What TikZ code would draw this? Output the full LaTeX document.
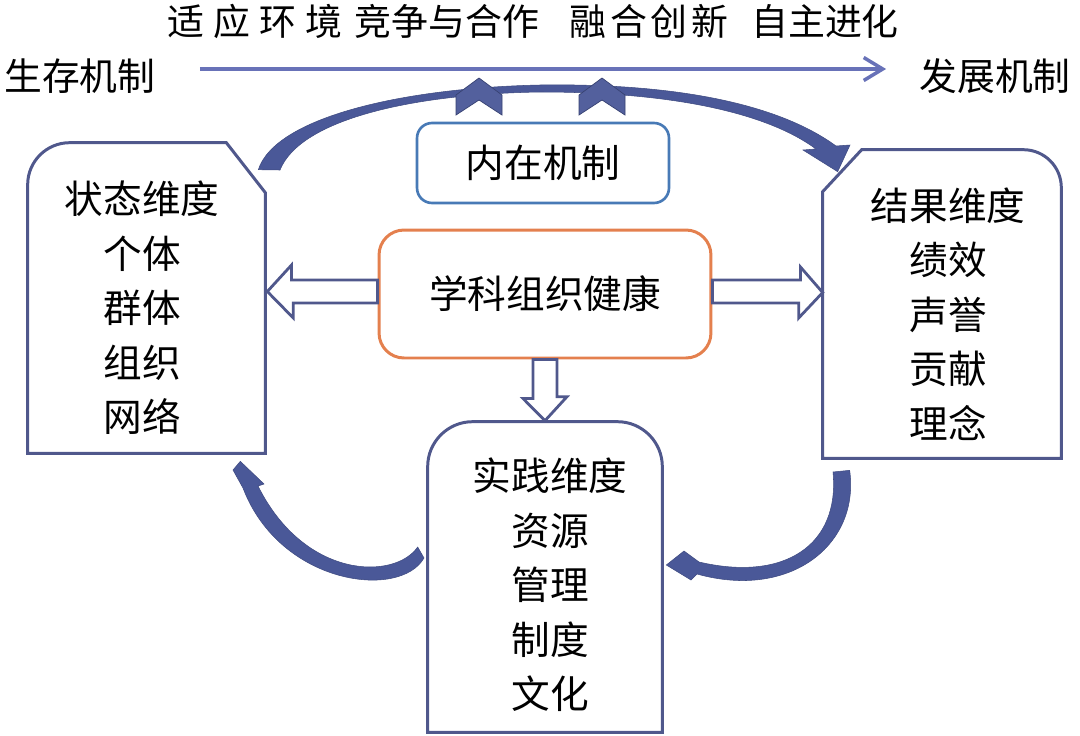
\documentclass[tikz,border=0pt]{standalone}
\usepackage{fontspec}
\newfontfamily\cjkfont{Noto Sans CJK SC}
\newfontfamily\cjkwide[LetterSpace=25]{Noto Sans CJK SC}
\newfontfamily\cjksemi[LetterSpace=10]{Noto Sans CJK SC}
\usepackage{xcolor}
\usepackage{tikz}
\usetikzlibrary{arrows.meta}
\usetikzlibrary{calc}
\definecolor{boxline}{RGB}{80,88,140}
\definecolor{arrowblue}{RGB}{74,88,152}
\definecolor{lineblue}{RGB}{104,114,184}
\definecolor{innerblue}{RGB}{72,122,182}
\definecolor{healthorange}{RGB}{228,128,78}
\tikzset{
    dimbox/.style args={#1:#2}{
        rectangle, inner sep=0pt, minimum width=#1, minimum height=#2
    },
    dimtext/.style={
        font=\cjkfont\fontsize{22pt}{31pt}\selectfont, align=center, inner sep=0pt
    },
    toptext/.style={
        font=\cjkfont\fontsize{21pt}{26pt}\selectfont, inner sep=0pt
    },
    dimline/.style={draw=boxline, line width=1.7pt},
    hollow/.style={draw=boxline, line width=1.6pt, fill=white, line join=miter},
    bendarrow/.style={fill=arrowblue, draw=arrowblue!85!black, line width=0.3pt},
    chevron/.style={fill=arrowblue!95!white, draw=arrowblue!75!black, line width=0.4pt}
}

\begin{document}
\begin{tikzpicture}[x=0.02cm, y=-0.02cm]
    \useasboundingbox (0,0) rectangle (1080,735);
    % top line: from survival to development
    \node[toptext, font=\cjkwide\fontsize{21pt}{26pt}\selectfont] (adapt) at (255,21) {适应环境};
    \node[toptext] (compete) at (447,21) {竞争与合作};
    \node[toptext, font=\cjksemi\fontsize{21pt}{26pt}\selectfont] (fuse) at (649,21) {融合创新};
    \node[toptext] (evolve) at (825,21) {自主进化};
    \node[toptext, font=\cjkfont\fontsize{21.5pt}{26pt}\selectfont] (survive) at (80,76) {生存机制};
    \node[toptext, font=\cjkfont\fontsize{21.5pt}{26pt}\selectfont] (develop) at (995,76) {发展机制};
    \draw[lineblue, line width=2pt, -{Straight Barb[length=0.38cm,width=0.46cm]}]
        ($(survive.east)+(44,-7)$) -- ($(develop.west)+(-33,-7)$);

    % the three dimensions and the two centre boxes
    \node[dimbox=4.74cm:6.2cm] (state) at (146.5,298) {};
    \node[dimbox=4.76cm:6.16cm] (result) at (942,304) {};
    \node[dimbox=4.68cm:6.2cm] (practice) at (545,577) {};
    \node[dimtext, draw=innerblue, line width=1.5pt, rounded corners=0.3cm,
          minimum width=5.04cm, minimum height=1.6cm] (inner) at (543,163) {内在机制};
    \node[dimtext, draw=healthorange, line width=1.7pt, rounded corners=0.5cm,
          minimum width=6.64cm, minimum height=2.56cm] (health) at (545,294) {学科组织健康};

    % hollow arrows out of the health box
    \draw[hollow] ($(health.west)+(0,-14)$) -- ++(-86,0) -- ++(0,-15)
        -- ($(state.east)+(2,-6.5)$) -- ++(26,26.5) -- ++(0,-15) -- ($(health.west)+(0,9)$) -- cycle;
    \draw[hollow] ($(health.east)+(0,-14)$) -- ++(88,0) -- ++(0,-13)
        -- ($(result.west)+(0,-11.5)$) -- ++(-24,25.5) -- ++(0,-15) -- ($(health.east)+(0,9)$) -- cycle;
    \draw[hollow] ($(health.south)+(-12,0)$) -- ++(0,39) -- ++(-10,0)
        -- ($(practice.north)+(0,-1)$) -- ++(22,-24) -- ++(-10,0) -- ($(health.south)+(12,0)$) -- cycle;

    % outlines
    \draw[dimline] (state.south west) [rounded corners=0.84cm] -- (state.north west) [sharp corners]
        -- ($(state.north east)+(-39,0)$) -- ($(state.north east)+(0,50)$) -- (state.south east) -- cycle;
    \draw[dimline] (result.south east) [rounded corners=0.76cm] -- (result.north east) [sharp corners]
        -- ($(result.north west)+(39,0)$) -- ($(result.north west)+(0,42)$) -- (result.south west) -- cycle;
    \draw[dimline] (practice.south west) [rounded corners=0.9cm] -- (practice.north west)
        -- (practice.north east) [sharp corners] -- (practice.south east) -- cycle;

    \node[dimtext] (statetxt) at (142,308) {状态维度\\个体\\群体\\组织\\网络};
    \node[dimtext] (resulttxt) at (948,314) {结果维度\\绩效\\声誉\\贡献\\理念};
    \node[dimtext] (practicetxt) at (550,585) {实践维度\\资源\\管理\\制度\\文化};

    % curved arrows of the cycle
    \coordinate (topfrom) at ($(state.north east)+(-7,27)$);
    \coordinate (topto) at ($(result.north west)+(15,22)$);
    \filldraw[bendarrow] (topfrom) .. controls (275,118) and (400,88) .. (540,85)
        .. controls (680,83) and (780,105) .. (836,146) -- (850,145) -- (topto) -- (803,150) -- (816,149)
        .. controls (770,115) and (680,92) .. (540,92) .. controls (410,94) and (300,120) .. (280,170) -- cycle;
    \foreach \cx in {479,602}
        \filldraw[chevron] (\cx,78) -- ++(23,17) -- ++(0,20) -- ++(-23,-15) -- ++(-23,15) -- ++(0,-20) -- cycle;

    \coordinate (leftfrom) at ($(practice.west)+(-10,-30)$);
    \coordinate (leftto) at ($(state.south east)+(-25,8)$);
    \filldraw[bendarrow] (leftfrom) .. controls (395,580) and (305,580) .. (258,486)
        -- (264,484) -- (leftto) -- (233,470) -- (243,488)
        .. controls (280,585) and (400,600) .. (424,558) -- cycle;

    \coordinate (rightfrom) at ($(result.south west)+(27,12)$);
    \coordinate (rightto) at ($(practice.east)+(4,-12)$);
    \filldraw[bendarrow] (rightfrom) .. controls (860,545) and (790,600) .. (697,574)
        -- (691,580) -- (rightto) -- (684,551) -- (699,562)
        .. controls (785,582) and (840,545) .. (833,472) -- cycle;
\end{tikzpicture}
\end{document}
